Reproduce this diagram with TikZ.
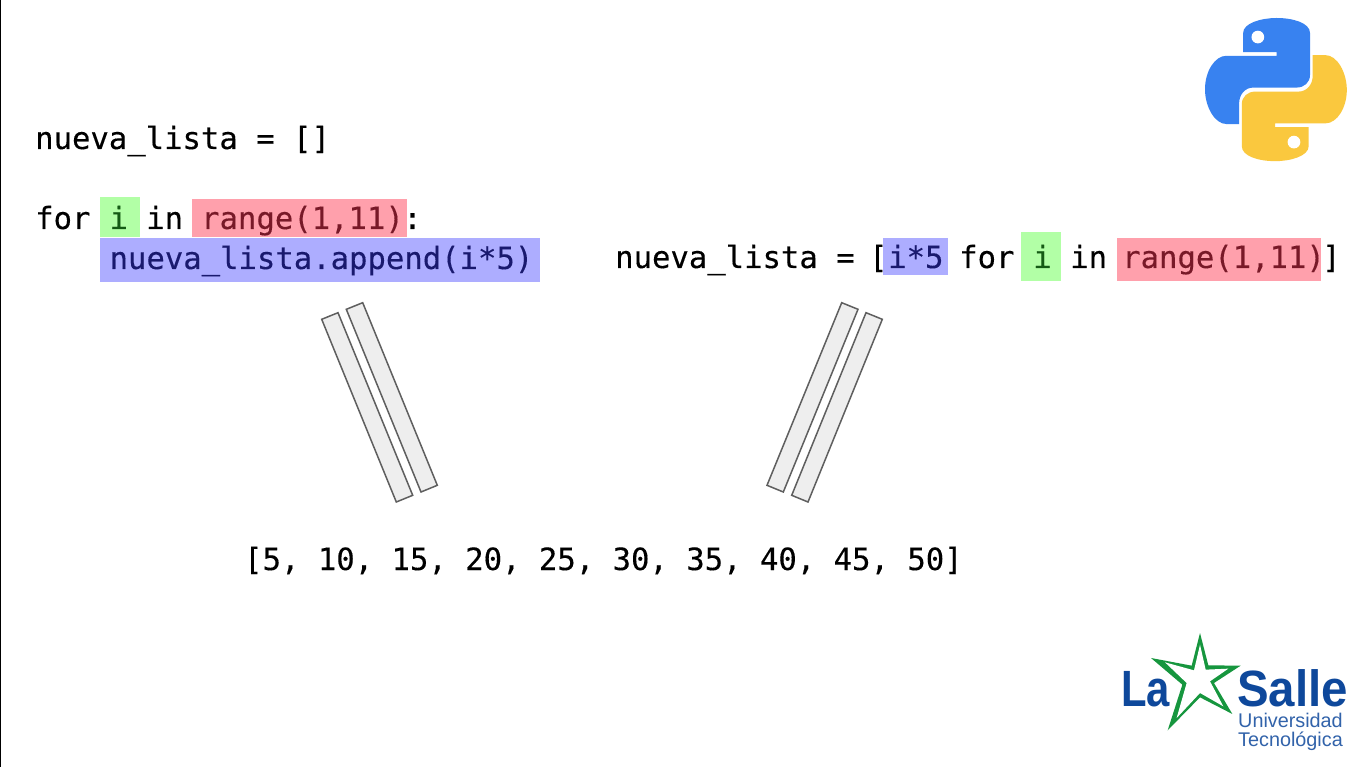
\documentclass[tikz,border=0pt]{standalone}
\usepackage{fontspec}
\setmainfont{Liberation Sans}
\setmonofont[FakeBold=0.25]{DejaVu Sans Mono}
\usepackage{xcolor}
\usetikzlibrary{positioning}
\definecolor{iterGreen}{RGB}{178,255,166}
\definecolor{iterText}{RGB}{20,90,20}
\definecolor{rangeRed}{RGB}{255,160,172}
\definecolor{rangeText}{RGB}{120,25,40}
\definecolor{exprBlue}{RGB}{173,173,255}
\definecolor{exprText}{RGB}{25,25,110}
\definecolor{barGray}{RGB}{238,238,238}
\definecolor{barEdge}{RGB}{95,95,95}
\definecolor{pyBlue}{RGB}{56,130,240}
\definecolor{pyYellow}{RGB}{250,200,62}
\definecolor{salleBlue}{RGB}{14,72,155}
\definecolor{salleGreen}{RGB}{22,150,62}
\tikzset{
  code/.style={anchor=base west,inner sep=0pt,font=\ttfamily\fontsize{30.6}{36}\selectfont},
  bar/.style={draw=barEdge,fill=barGray,line width=1.5pt},
  salleBig/.style={anchor=base west,inner sep=0pt,text=salleBlue,font=\bfseries\fontsize{51}{51}\selectfont,transform shape},
  salleSmall/.style={anchor=base west,inner sep=0pt,text=salleBlue!85!white,font=\fontsize{19.8}{20}\selectfont}
}
\begin{document}
\begin{tikzpicture}[x=1pt,y=-1pt]
  \useasboundingbox (0,0) rectangle (1365,767);
  \fill[white] (0,0) rectangle (1365,767);
  \draw[black,line width=1.5pt] (0.5,0) -- (0.5,767);
  % Highlights
  \fill[iterGreen] (100,197) rectangle (140,237);
  \fill[rangeRed] (192,199) rectangle (407,237);
  \fill[exprBlue] (100,238) rectangle (540,282);
  \fill[exprBlue] (883,238) rectangle (948,275);
  \fill[iterGreen] (1021,232) rectangle (1061,281);
  \fill[rangeRed] (1117,238) rectangle (1321,281);
  % Loop version
  \node[code] (init) at (35,149) {nueva\_lista = []};
  \node[code] (forKw) at (35,229) {for};
  \node[code,text=iterText] (iterA) at (109.4,229) {i};
  \node[code] (inA) at (146,229) {in};
  \node[code,text=rangeText] (rangeA) at (201,229) {range(1,11)};
  \node[code] (colon) at (403,229) {:};
  \node[code,text=exprText] (appendCall) at (109.4,269) {nueva\_lista.append(i*5)};
  % Comprehension version
  \node[code] (compStart) at (615,268) {nueva\_lista =};
  \node[code] (openB) at (869,268) {[};
  \node[code,text=exprText] (exprB) at (888,268) {i*5};
  \node[code] (forB) at (959,268) {for};
  \node[code,text=iterText] (iterB) at (1033,268) {i};
  \node[code] (inB) at (1070,268) {in};
  \node[code,text=rangeText] (rangeB) at (1122,268) {range(1,11)};
  \node[code] (closeB) at (1322,268) {]};
  % Result
  \node[code] (result) at (244,570) {[5, 10, 15, 20, 25, 30, 35, 40, 45, 50]};
  % Equal signs
  \draw[bar] (321.7,319.3) -- (338,312.7) -- (412.7,495.3) -- (396.3,502) -- cycle;
  \draw[bar] (346.3,309.3) -- (362.7,302.7) -- (437.3,485.3) -- (421,492) -- cycle;
  \draw[bar] (841.7,302.7) -- (858,309.3) -- (783.3,492) -- (767,485.3) -- cycle;
  \draw[bar] (866,312.7) -- (882.3,319.3) -- (808,502) -- (791.7,495.3) -- cycle;
  % Python logo
  \begin{scope}[shift={(1189.6,-0.4)},x=0.3345pt,y=-0.3345pt]
    \foreach \tint/\turn in {pyBlue/0,pyYellow/180}{
      \begin{scope}[rotate around={\turn:(258,269)}]
        \fill[\tint] (160,157) -- (160,100) .. controls (160,70) and (215,55) .. (260,55)
          .. controls (310,55) and (360,70) .. (360,100) -- (360,225)
          .. controls (360,248) and (342,263) .. (320,263) -- (190,263)
          .. controls (165,263) and (148,285) .. (148,310) -- (148,372) -- (110,372)
          .. controls (75,372) and (46,320) .. (46,268)
          .. controls (46,215) and (75,168) .. (110,168) -- (260,168) -- (260,157) -- cycle;
        \fill[white] (204,112) circle[radius=19];
      \end{scope}
    }
  \end{scope}
  % La Salle logo
  \node[salleBig,xscale=0.82] (la) at (1121,706) {La};
  \node[salleBig,xscale=0.93] (salle) at (1237,706) {Salle};
  \begin{scope}[shift={(1140,628)},x=0.3333pt,y=-0.3333pt]
    \fill[salleGreen] (180,15) -- (205,112) -- (302,113) -- (222,165) -- (277,258) -- (180,208)
      -- (83,307) -- (127,170) -- (33,90) -- (155,113) -- cycle;
    \fill[white] (180,50) -- (197,125) -- (265,122) -- (210,160) -- (250,235) -- (180,195)
      -- (110,270) -- (140,165) -- (75,103) -- (162,127) -- cycle;
  \end{scope}
  \node[salleSmall] (univ) at (1238,727) {Universidad};
  \node[salleSmall] (tecno) at (1238,746) {Tecnológica};
\end{tikzpicture}
\end{document}
